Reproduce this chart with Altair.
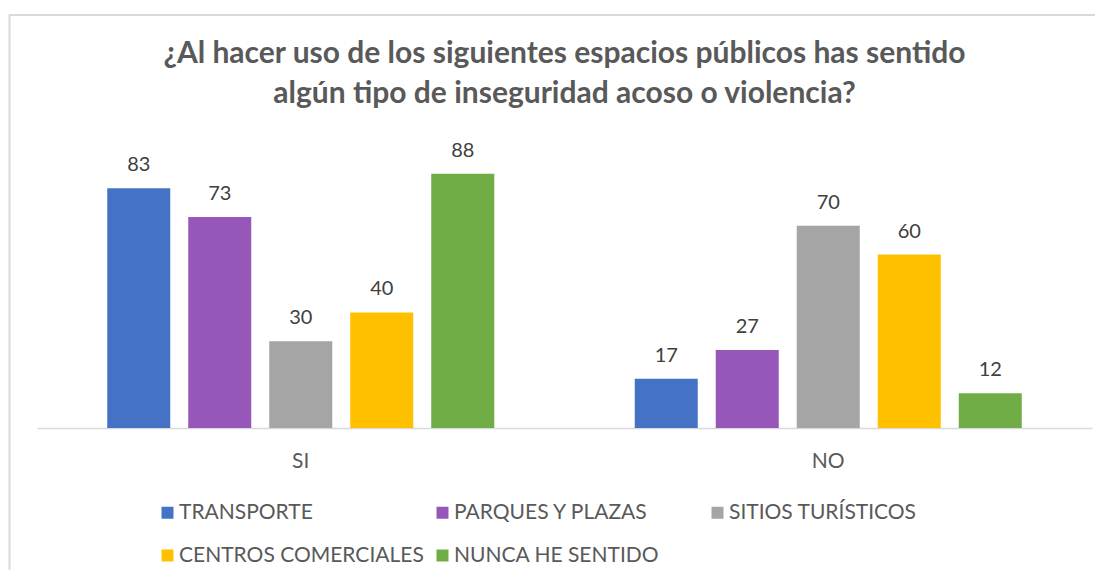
import altair as alt
import pandas as pd

categories = ["SI", "NO"]
series = ["TRANSPORTE", "PARQUES Y PLAZAS", "SITIOS TURÍSTICOS", "CENTROS COMERCIALES", "NUNCA HE SENTIDO"]
si_values = [83, 73, 30, 40, 88]
no_values = [17, 27, 70, 60, 12]
colors = ["#4472C4", "#9657B9", "#A5A5A5", "#FFC000", "#70AD47"]
title_lines = [
    "¿Al hacer uso de los siguientes espacios públicos has sentido",
    "algún tipo de inseguridad acoso o violencia?",
]

rows = []
for cat, vals in zip(categories, [si_values, no_values]):
    for s, v in zip(series, vals):
        rows.append({"categoria": cat, "serie": s, "valor": v})
df = pd.DataFrame(rows)

FONT = "Lato"
TXT = "#595959"

x_enc = alt.X(
    "categoria:N",
    sort=categories,
    scale=alt.Scale(paddingInner=0, paddingOuter=0),
    axis=alt.Axis(
        title=None, labelAngle=0, ticks=False, domainColor="#D9D9D9", domainWidth=1.5,
        labelFont=FONT, labelFontSize=21, labelColor=TXT, labelPadding=22, grid=False,
    ),
)
xo_enc = alt.XOffset("serie:N", sort=series, scale=alt.Scale(paddingInner=0.222, paddingOuter=0.867))
y_enc = alt.Y("valor:Q", scale=alt.Scale(domain=[0, 100]), axis=None)

base = alt.Chart(df)

bars = base.mark_bar().encode(
    x=x_enc,
    xOffset=xo_enc,
    y=y_enc,
    color=alt.Color(
        "serie:N",
        sort=series,
        scale=alt.Scale(domain=series, range=colors),
        legend=alt.Legend(
            title=None, orient="none", legendX=120, legendY=363, columns=3,
            direction="horizontal", gridAlign="all", columnPadding=8, rowPadding=21,
            symbolType="square", symbolSize=144, symbolStrokeWidth=0, symbolOffset=0,
            labelFont=FONT, labelFontSize=21, labelColor=TXT, labelOffset=1, labelLimit=400,
        ),
    ),
)

labels = base.mark_text(
    baseline="alphabetic", dy=-17, font=FONT, fontSize=20, color="#404040"
).encode(x=x_enc, xOffset=xo_enc, y=y_enc, text="valor:Q")

border = alt.Chart(pd.DataFrame({"b": [0]})).mark_rect(
    fillOpacity=0, stroke="#D9D9D9", strokeWidth=2
).encode(
    x=alt.value(-27.5), x2=alt.value(1200), y=alt.value(-124), y2=alt.value(520)
)

chart = alt.layer(border, bars, labels).properties(
    width=1055,
    height=289,
    autosize=alt.AutoSizeParams(type="none"),
    padding={"left": 29, "top": 131, "right": 3, "bottom": 142},
    title=alt.TitleParams(
        text=title_lines, font=FONT, fontSize=30, fontWeight="bold", color=TXT,
        lineHeight=40, anchor="middle", offset=30, dy=125,
    ),
).configure(background="white").configure_view(stroke=None)

chart.save("out.html", embed_options={"renderer": "svg", "actions": False})
